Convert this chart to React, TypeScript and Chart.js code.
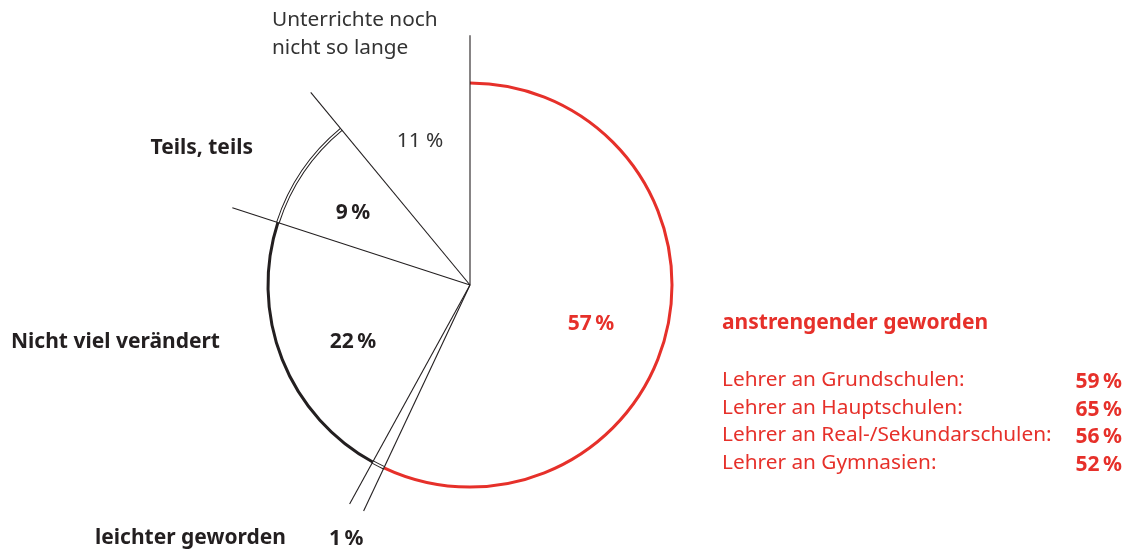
import React, { useEffect, useRef } from "react";
import { Chart, registerables } from "chart.js";

Chart.register(...registerables);

// ---- data ----
const categories = [
  "anstrengender geworden",
  "leichter geworden",
  "Nicht viel verändert",
  "Teils, teils",
  "Unterrichte noch nicht so lange",
];
const shares = [57, 1, 22, 9, 11];

const schoolLabels = [
  "Lehrer an Grundschulen:",
  "Lehrer an Hauptschulen:",
  "Lehrer an Real-/Sekundarschulen:",
  "Lehrer an Gymnasien:",
];
const schoolValues = [59, 65, 56, 52];

// ---- styles ----
const RED = "#e6302a";
const INK = "#231f20";
const arcKinds = ["red", "double", "black", "double", "none"];
const FONT = "'Noto Sans', sans-serif";

const pct = (v: number) => `${v}\u202F%`;

const outlinePlugin = {
  id: "outlinePlugin",
  afterDatasetsDraw(chart: any) {
    const ctx = chart.ctx as CanvasRenderingContext2D;
    const meta = chart.getDatasetMeta(0);
    ctx.save();
    meta.data.forEach((el: any, i: number) => {
      const { x, y, startAngle, endAngle, outerRadius } = el.getProps(
        ["x", "y", "startAngle", "endAngle", "outerRadius"],
        true
      );
      const kind = arcKinds[i];
      if (kind === "red" || kind === "black") {
        ctx.beginPath();
        ctx.arc(x, y, outerRadius, startAngle, endAngle);
        ctx.strokeStyle = kind === "red" ? RED : INK;
        ctx.lineWidth = 3;
        ctx.stroke();
      } else if (kind === "double") {
        ctx.beginPath();
        ctx.arc(x, y, outerRadius, startAngle, endAngle);
        ctx.strokeStyle = INK;
        ctx.lineWidth = 3.6;
        ctx.stroke();
        ctx.beginPath();
        ctx.arc(x, y, outerRadius, startAngle, endAngle);
        ctx.strokeStyle = "#ffffff";
        ctx.lineWidth = 1.6;
        ctx.stroke();
      }
    });
    meta.data.forEach((el: any) => {
      const { x, y, startAngle, outerRadius } = el.getProps(
        ["x", "y", "startAngle", "outerRadius"],
        true
      );
      const len = outerRadius * 1.237;
      ctx.beginPath();
      ctx.moveTo(x, y);
      ctx.lineTo(x + Math.cos(startAngle) * len, y + Math.sin(startAngle) * len);
      ctx.strokeStyle = INK;
      ctx.lineWidth = 1.1;
      ctx.stroke();
    });
    ctx.restore();
  },
};

type Lbl = {
  text: string;
  x: number;
  y: number;
  align: "left" | "center" | "right";
  bold?: boolean;
  red?: boolean;
};

export default function App() {
  const ref = useRef<HTMLCanvasElement>(null);

  useEffect(() => {
    if (!ref.current) return;
    const chart = new Chart(ref.current, {
      type: "pie",
      data: {
        labels: categories,
        datasets: [
          {
            data: shares,
            backgroundColor: "#ffffff",
            borderWidth: 0,
            hoverOffset: 0,
          },
        ],
      },
      options: {
        responsive: false,
        animation: false,
        events: [],
        layout: { padding: { left: 268, top: 83, right: 462, bottom: 64 } },
        plugins: { legend: { display: false }, tooltip: { enabled: false } },
      },
      plugins: [outlinePlugin],
    });
    return () => chart.destroy();
  }, []);

  const labels: Lbl[] = [
    { text: "Unterrichte noch", x: 272, y: 18, align: "left" },
    { text: "nicht so lange", x: 272, y: 46, align: "left" },
    { text: `${shares[4]} %`, x: 420, y: 139, align: "center" },
    { text: categories[3], x: 253, y: 146, align: "right", bold: true },
    { text: pct(shares[3]), x: 353, y: 211, align: "center", bold: true },
    { text: categories[2], x: 220, y: 340, align: "right", bold: true },
    { text: pct(shares[2]), x: 353, y: 340, align: "center", bold: true },
    { text: pct(shares[0]), x: 591, y: 322, align: "center", bold: true, red: true },
    { text: categories[1], x: 286, y: 536, align: "right", bold: true },
    { text: pct(shares[1]), x: 329, y: 537, align: "left", bold: true },
    { text: categories[0], x: 722, y: 321, align: "left", bold: true, red: true },
  ];
  schoolLabels.forEach((t, i) => {
    labels.push({ text: t, x: 722, y: 378 + i * 27.7, align: "left", red: true });
    labels.push({
      text: pct(schoolValues[i]),
      x: 1122,
      y: 380 + i * 27.7,
      align: "right",
      bold: true,
      red: true,
    });
  });

  return (
    <div
      style={{
        position: "absolute",
        left: 0,
        top: 0,
        width: 1134,
        height: 551,
        background: "#ffffff",
        overflow: "hidden",
      }}
    >
      <canvas ref={ref} width={1134} height={551} style={{ position: "absolute", left: 0, top: 0 }} />
      {labels.map((l, i) => {
        const tx = l.align === "left" ? "0" : l.align === "center" ? "-50%" : "-100%";
        return (
          <div
            key={i}
            style={{
              position: "absolute",
              left: l.x,
              top: l.y,
              transform: `translate(${tx}, -50%)`,
              whiteSpace: "nowrap",
              fontFamily: FONT,
              fontSize: l.bold ? 21 : 20.8,
              lineHeight: "26px",
              fontWeight: l.bold ? 700 : 400,
              color: l.red ? RED : l.bold ? INK : "#333333",
            }}
          >
            {l.text}
          </div>
        );
      })}
    </div>
  );
}
